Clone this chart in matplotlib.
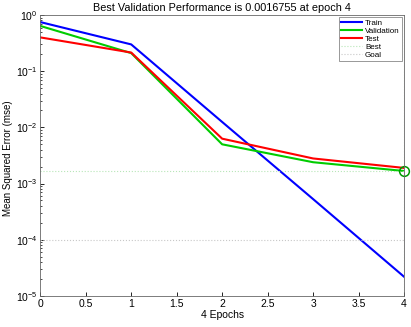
import numpy as np
import matplotlib
matplotlib.use('Agg')
import matplotlib.pyplot as plt
from matplotlib.ticker import FixedLocator, LogLocator, NullFormatter

plt.rcParams['font.family'] = ['Liberation Sans', 'DejaVu Sans']

epochs = [0, 1, 2, 3, 4]
train = [0.75, 0.30, 0.0125, 0.00053, 2.2e-5]
validation = [0.64, 0.21, 0.0050, 0.0024, 0.0016755]
test = [0.40, 0.215, 0.0063, 0.0028, 0.0019]
best_epoch = 4
best_perf = 0.0016755
goal = 1e-4

fig = plt.figure(figsize=(4.11, 3.27), dpi=100)
ax = fig.add_axes([0.098, 0.095, 0.885, 0.859])

ax.semilogy(epochs, train, color='#0000ff', lw=1.5, label='Train')
ax.semilogy(epochs, validation, color='#00cc00', lw=1.5, label='Validation')
ax.semilogy(epochs, test, color='#ff0000', lw=1.5, label='Test')
ax.axhline(best_perf, color='#b8e6b8', lw=0.8, ls=':', label='Best')
ax.axvline(best_epoch, color='#b8e6b8', lw=0.8, ls=':')
ax.axhline(goal, color='#c8c8c8', lw=0.8, ls=':', label='Goal')
ax.plot([best_epoch], [best_perf], 'o', mfc='none', mec='#009900', ms=7, mew=1.1, clip_on=False)

ax.set_xlim(0, 4)
ax.set_ylim(1e-5, 1)
ax.set_xticks(np.arange(0, 4.01, 0.5))
ax.set_xticklabels(['0', '0.5', '1', '1.5', '2', '2.5', '3', '3.5', '4'])
ax.yaxis.set_major_locator(FixedLocator([1e-5, 1e-4, 1e-3, 1e-2, 1e-1, 1]))
ax.yaxis.set_minor_locator(LogLocator(base=10, subs=np.arange(2, 10)))
ax.yaxis.set_minor_formatter(NullFormatter())
ax.tick_params(direction='in', length=3, width=0.6, labelsize=7.5, top=False, right=False, pad=2)
ax.tick_params(which='minor', direction='in', length=1.5, width=0.5)

ax.set_title('Best Validation Performance is 0.0016755 at epoch 4', fontsize=7.8, pad=3)
ax.set_xlabel('4 Epochs', fontsize=7.5, labelpad=1)
ax.set_ylabel('Mean Squared Error (mse)', fontsize=7)
ax.yaxis.set_label_coords(-0.075, 0.49)

for s in ax.spines.values():
    s.set_linewidth(0.6)
    s.set_color('#666666')

leg = ax.legend(loc='upper right', fontsize=5.8, fancybox=False, framealpha=1,
                edgecolor='#888888', handlelength=2.6, handletextpad=0.4,
                borderpad=0.25, labelspacing=0.05, borderaxespad=0.3)
leg.get_frame().set_linewidth(0.6)

fig.savefig('out.png', dpi=100)
